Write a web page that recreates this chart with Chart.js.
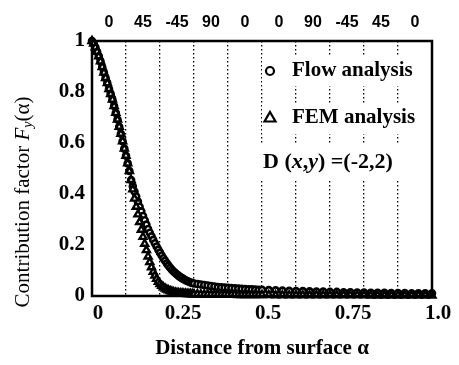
<!DOCTYPE html>
<html>
<head>
<meta charset="utf-8">
<script src="https://cdn.jsdelivr.net/npm/chart.js@4.4.1/dist/chart.umd.min.js"></script>
<style>
  html, body { margin: 0; padding: 0; background: #fff; }
</style>
</head>
<body>
<canvas id="grafico" width="459" height="365"></canvas>
<script>
// distancia desde la superficie (alpha)
const alphas = [
  0, 0.005, 0.01, 0.015, 0.02, 0.025, 0.03, 0.035, 0.04, 0.045,
  0.05, 0.055, 0.06, 0.065, 0.07, 0.075, 0.08, 0.085, 0.09, 0.095,
  0.1, 0.105, 0.11, 0.115, 0.12, 0.125, 0.13, 0.135, 0.14, 0.145,
  0.15, 0.155, 0.16, 0.165, 0.17, 0.175, 0.18, 0.185, 0.19, 0.195,
  0.2, 0.205, 0.21, 0.215, 0.22, 0.225, 0.23, 0.235, 0.24, 0.245,
  0.25, 0.255, 0.26, 0.265, 0.27, 0.275, 0.28, 0.285, 0.29, 0.295,
  0.3,
  0.31, 0.32, 0.33, 0.34, 0.35, 0.36, 0.37, 0.38, 0.39, 0.4,
  0.41, 0.42, 0.43, 0.44, 0.45, 0.46, 0.47, 0.48, 0.49, 0.5,
  0.52, 0.54, 0.56, 0.58, 0.6, 0.62, 0.64, 0.66, 0.68, 0.7,
  0.72, 0.74, 0.76, 0.78, 0.8, 0.82, 0.84, 0.86, 0.88, 0.9,
  0.92, 0.94, 0.96, 0.98, 1.0
];
const flowAnalysis = [
  1.000, 0.990, 0.975, 0.958, 0.940, 0.920, 0.898, 0.876, 0.855, 0.835,
  0.812, 0.792, 0.770, 0.745, 0.718, 0.692, 0.664, 0.636, 0.607, 0.578,
  0.550, 0.520, 0.490, 0.455, 0.430, 0.410, 0.390, 0.370, 0.350, 0.332,
  0.314, 0.297, 0.280, 0.263, 0.248, 0.234, 0.220, 0.207, 0.194, 0.182,
  0.170, 0.159, 0.148, 0.138, 0.128, 0.119, 0.111, 0.103, 0.096, 0.090,
  0.084, 0.079, 0.074, 0.070, 0.066, 0.062, 0.059, 0.056, 0.053, 0.051,
  0.049,
  0.047, 0.045, 0.043, 0.041, 0.039, 0.037, 0.035, 0.034, 0.033, 0.032,
  0.031, 0.030, 0.029, 0.028, 0.027, 0.026, 0.026, 0.025, 0.024, 0.024,
  0.023, 0.022, 0.021, 0.020, 0.019, 0.019, 0.018, 0.017, 0.017, 0.016,
  0.016, 0.015, 0.015, 0.014, 0.014, 0.013, 0.013, 0.013, 0.012, 0.012,
  0.012, 0.011, 0.011, 0.011, 0.011
];
const femAnalysis = [
  1.000, 0.990, 0.975, 0.958, 0.940, 0.920, 0.898, 0.876, 0.855, 0.835,
  0.812, 0.792, 0.770, 0.745, 0.718, 0.692, 0.664, 0.636, 0.607, 0.578,
  0.550, 0.520, 0.490, 0.455, 0.418, 0.382, 0.350, 0.320, 0.290, 0.260,
  0.232, 0.205, 0.180, 0.155, 0.133, 0.113, 0.095, 0.080, 0.067, 0.056,
  0.047, 0.040, 0.034, 0.029, 0.025, 0.022, 0.019, 0.017, 0.015, 0.013,
  0.012, 0.011, 0.010, 0.010, 0.009, 0.009, 0.008, 0.008, 0.008, 0.007,
  0.007,
  0.007, 0.006, 0.006, 0.006, 0.006, 0.005, 0.005, 0.005, 0.005, 0.005,
  0.005, 0.005, 0.004, 0.004, 0.004, 0.004, 0.004, 0.004, 0.004, 0.004,
  0.004, 0.003, 0.003, 0.003, 0.003, 0.003, 0.003, 0.003, 0.003, 0.003,
  0.003, 0.003, 0.003, 0.003, 0.003, 0.002, 0.002, 0.002, 0.002, 0.002,
  0.002, 0.002, 0.002, 0.002, 0.002
];
// angulos de cada capa (eje superior)
const capas = ['0', '45', '-45', '90', '0', '0', '90', '-45', '45', '0'];
const xTicks = [0, 0.25, 0.5, 0.75, 1];
const xTickLabels = ['0', '0.25', '0.5', '0.75', '1.0'];
const yTicks = [0, 0.2, 0.4, 0.6, 0.8, 1];
const yTickLabels = ['0', '0.2', '0.4', '0.6', '0.8', '1'];

const serif = "'Liberation Serif', 'Times New Roman', serif";
const sans = "'Liberation Sans', Arial, sans-serif";

const extras = {
  id: 'extras',
  afterDatasetsDraw(chart) {
    const ctx = chart.ctx, a = chart.chartArea;
    ctx.save();
    // marco
    ctx.strokeStyle = '#000';
    ctx.lineWidth = 2.5;
    ctx.strokeRect(a.left, a.top, a.right - a.left, a.bottom - a.top);

    // leyenda
    ctx.fillStyle = '#fff';
    ctx.fillRect(262, 57, 164, 29);
    ctx.fillRect(262, 103, 164, 31);
    ctx.fillRect(258, 143, 160, 36);
    ctx.fillStyle = '#000';
    ctx.lineWidth = 2.2;
    ctx.beginPath();
    ctx.arc(270, 71, 4, 0, Math.PI * 2);
    ctx.stroke();
    ctx.beginPath();
    ctx.moveTo(270, 112); ctx.lineTo(275.5, 121.5); ctx.lineTo(264.5, 121.5); ctx.closePath();
    ctx.stroke();
    ctx.font = 'bold 21px ' + serif;
    ctx.textBaseline = 'middle';
    ctx.textAlign = 'left';
    ctx.fillText('Flow analysis', 292, 71);
    ctx.fillText('FEM analysis', 292, 118);
    let x = 263;
    const partes = [['D (', ''], ['x', 'italic '], [',', ''], ['y', 'italic '], [') =(-2,2)', '']];
    partes.forEach(([t, st]) => {
      ctx.font = st + 'bold 22px ' + serif;
      ctx.fillText(t, x, 162);
      x += ctx.measureText(t).width;
    });

    // titulo eje y
    ctx.translate(23, 202);
    ctx.rotate(-Math.PI / 2);
    const tit = [['Contribution factor ', '21px', 0], ['F', 'italic 21px', 0], ['y', 'italic 14px', 5], ['(α)', '21px', 0]];
    let total = 0;
    tit.forEach(([t, f]) => { ctx.font = f + ' ' + serif; total += ctx.measureText(t).width; });
    x = -total / 2;
    tit.forEach(([t, f, dy]) => {
      ctx.font = f + ' ' + serif;
      ctx.fillText(t, x, dy);
      x += ctx.measureText(t).width;
    });
    ctx.restore();
  }
};

new Chart(document.getElementById('grafico'), {
  type: 'scatter',
  data: {
    datasets: [
      {
        label: 'FEM analysis',
        data: alphas.map((a, i) => ({ x: a, y: femAnalysis[i] })),
        pointStyle: 'triangle', pointRadius: 4, borderWidth: 2.4, clip: false,
        borderColor: '#000', backgroundColor: '#fff', xAxisID: 'x', yAxisID: 'y'
      },
      {
        label: 'Flow analysis',
        data: alphas.map((a, i) => ({ x: a, y: flowAnalysis[i] })),
        pointStyle: 'circle', pointRadius: 3, borderWidth: 2.6, clip: false,
        borderColor: '#000', backgroundColor: '#fff', xAxisID: 'x', yAxisID: 'y'
      }
    ]
  },
  options: {
    responsive: false,
    animation: false,
    devicePixelRatio: 1,
    layout: { padding: { left: 0, right: 27, top: 0, bottom: 0 } },
    plugins: { legend: { display: false }, tooltip: { enabled: false } },
    scales: {
      x: {
        type: 'linear', position: 'bottom', min: 0, max: 1,
        afterBuildTicks: s => { s.ticks = xTicks.map(v => ({ value: v })); },
        afterFit: s => { s.height = 69; },
        grid: { display: false, drawTicks: false },
        border: { display: false },
        ticks: {
          padding: 5, labelOffset: 6, color: '#000', maxRotation: 0, autoSkip: false,
          font: { family: serif, size: 21, weight: 'bold' },
          callback: v => xTickLabels[xTicks.indexOf(v)]
        },
        title: {
          display: true, text: 'Distance from surface α', color: '#000',
          font: { family: serif, size: 21, weight: 'bold' },
          padding: { top: 0, bottom: 4 }
        }
      },
      capa: {
        type: 'category', position: 'top', labels: capas, offset: true,
        afterFit: s => { s.height = 41; },
        grid: { offset: true, color: '#000', lineWidth: 1.3, drawTicks: false },
        border: { display: false, dash: [1.5, 2.5] },
        ticks: {
          padding: 9, color: '#000', maxRotation: 0, autoSkip: false,
          font: { family: sans, size: 16, weight: 'bold' }
        }
      },
      y: {
        type: 'linear', min: 0, max: 1,
        afterBuildTicks: s => { s.ticks = yTicks.map(v => ({ value: v })); },
        afterFit: s => { s.width = 92; },
        grid: { display: false, drawTicks: false },
        border: { display: false },
        ticks: {
          padding: 7, color: '#000',
          font: { family: serif, size: 21, weight: 'bold' },
          callback: v => yTickLabels[yTicks.indexOf(v)]
        }
      }
    }
  },
  plugins: [extras]
});
</script>
</body>
</html>
